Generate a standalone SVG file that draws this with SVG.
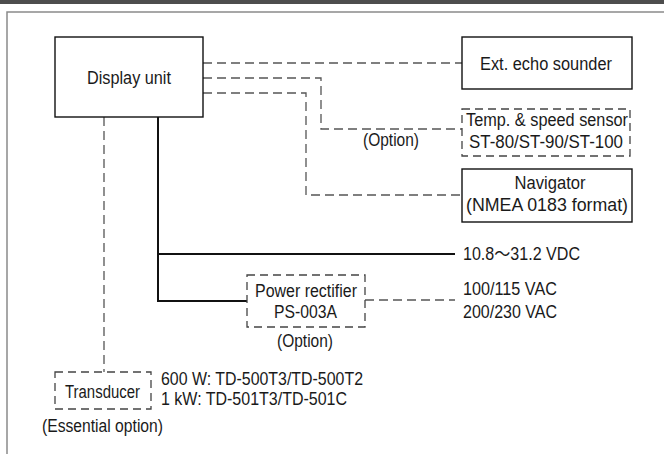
<svg xmlns="http://www.w3.org/2000/svg" width="664" height="454" viewBox="0 0 664 454">
<style>
text{font-family:"Liberation Sans",Arial,sans-serif;font-size:17.5px;fill:#1a1a1a}
.mid{text-anchor:middle}
.cjk{font-family:"Liberation Sans","Noto Sans CJK JP",sans-serif}
.box{fill:#fff;stroke:#111;stroke-width:1.4}
.dbox{fill:#fff;stroke:#444;stroke-width:1.3;stroke-dasharray:8 5}
.dl{fill:none;stroke:#555;stroke-width:1.3;stroke-dasharray:9 5}
.sl{fill:none;stroke:#111;stroke-width:2}
</style>
<rect x="0" y="0" width="664" height="4" fill="#4d4d4d"/>
<path d="M7 454 V12 H664" fill="none" stroke="#8a8a8a" stroke-width="1.5"/>
<g id="connectors">
<path class="dl" d="M203 63 H462"/>
<path class="dl" d="M203 78 H321 V129 H462"/>
<path class="dl" d="M203 93 H306 V195 H462"/>
<path class="sl" d="M158 117 V301 H247"/>
<path class="sl" d="M158 254 H455"/>
<path class="dl" d="M365 300 H455"/>
<path class="dl" d="M104 117 V372"/>
</g>
<g id="display-unit">
<rect class="box" x="55" y="37" width="148" height="80"/>
<text class="mid" x="129" y="84" textLength="84" lengthAdjust="spacingAndGlyphs">Display unit</text>
</g>
<g id="ext-echo-sounder">
<rect class="box" x="462" y="37" width="170" height="52"/>
<text class="mid" x="546" y="70" textLength="132" lengthAdjust="spacingAndGlyphs">Ext. echo sounder</text>
</g>
<g id="temp-speed-sensor">
<rect class="dbox" x="462" y="109" width="168" height="47"/>
<text class="mid" x="547" y="126" textLength="162" lengthAdjust="spacingAndGlyphs">Temp. &amp; speed sensor</text>
<text class="mid" x="546" y="148" textLength="154" lengthAdjust="spacingAndGlyphs">ST-80/ST-90/ST-100</text>
<text class="mid" x="391" y="146" textLength="56" lengthAdjust="spacingAndGlyphs">(Option)</text>
</g>
<g id="navigator">
<rect class="box" x="462" y="169" width="170" height="53"/>
<text class="mid" x="550" y="189" textLength="71" lengthAdjust="spacingAndGlyphs">Navigator</text>
<text class="mid" x="547" y="211" textLength="162" lengthAdjust="spacingAndGlyphs">(NMEA 0183 format)</text>
</g>
<g id="vdc">
<text class="cjk" x="463" y="260" textLength="117" lengthAdjust="spacingAndGlyphs">10.8～31.2 VDC</text>
</g>
<g id="power-rectifier">
<rect class="dbox" x="247" y="275" width="118" height="52"/>
<text class="mid" x="306" y="297" textLength="102" lengthAdjust="spacingAndGlyphs">Power rectifier</text>
<text class="mid" x="305.5" y="318" textLength="63" lengthAdjust="spacingAndGlyphs">PS-003A</text>
<text class="mid" x="305" y="347" textLength="56" lengthAdjust="spacingAndGlyphs">(Option)</text>
</g>
<g id="vac">
<text x="463" y="295" textLength="94" lengthAdjust="spacingAndGlyphs">100/115 VAC</text>
<text x="463" y="318" textLength="94" lengthAdjust="spacingAndGlyphs">200/230 VAC</text>
</g>
<g id="transducer">
<rect class="dbox" x="55" y="372" width="96" height="37"/>
<text class="mid" x="102.5" y="398" textLength="75" lengthAdjust="spacingAndGlyphs">Transducer</text>
<text x="161" y="385" textLength="202" lengthAdjust="spacingAndGlyphs">600 W: TD-500T3/TD-500T2</text>
<text x="161" y="405" textLength="186" lengthAdjust="spacingAndGlyphs">1 kW: TD-501T3/TD-501C</text>
<text x="42" y="432" textLength="121" lengthAdjust="spacingAndGlyphs">(Essential option)</text>
</g>
</svg>
